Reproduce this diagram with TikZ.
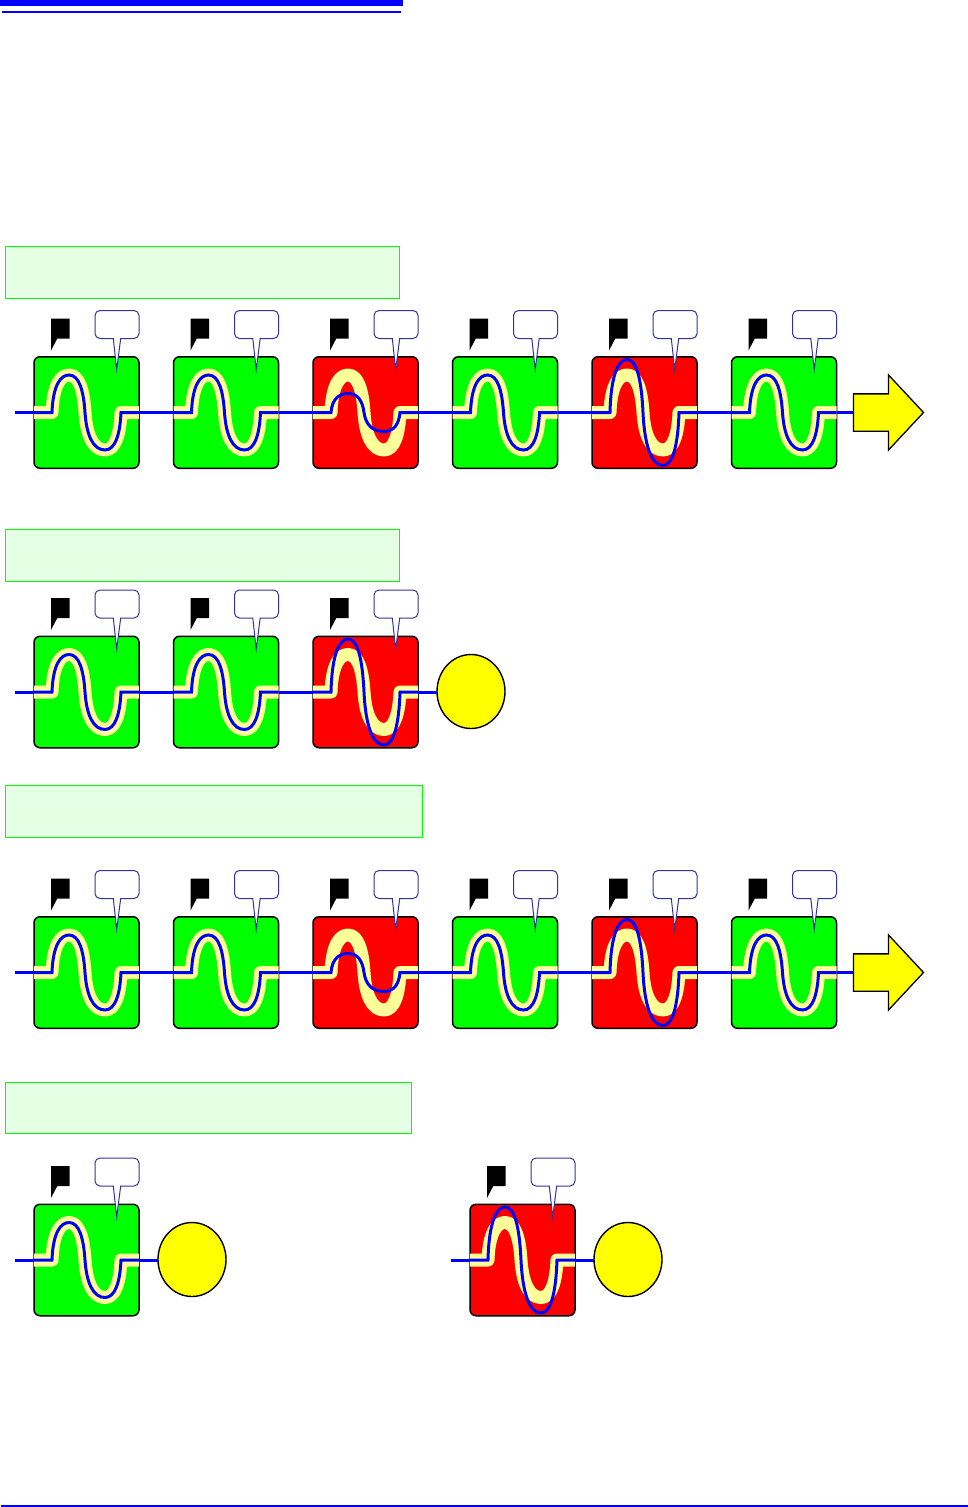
\documentclass[tikz,border=0pt]{standalone}
\usetikzlibrary{shapes.geometric,shapes.arrows}
\definecolor{wireblue}{RGB}{0,0,255}
\definecolor{bandyellow}{RGB}{255,255,153}
\definecolor{calloutblue}{RGB}{51,51,153}
\definecolor{labelfill}{RGB}{229,255,229}
\definecolor{labelline}{RGB}{0,255,0}
\definecolor{okgreen}{RGB}{0,255,0}
\definecolor{badred}{RGB}{255,0,0}
\definecolor{goalyellow}{RGB}{255,255,0}
\tikzset{
  x=1pt,y=-1pt,
  unitbox/.style={draw=black,line width=1.5pt,rounded corners=6pt,minimum width=105pt,minimum height=111.5pt,inner sep=0pt,outer sep=0pt},
  wire/.style={draw=wireblue,line width=3pt},
  band/.style={draw=bandyellow,line width=13pt,line join=round},
  labelbox/.style={draw=labelline,fill=labelfill,line width=1pt,inner sep=0pt,anchor=north west},
  goal/.style={ellipse,draw=black,fill=goalyellow,line width=1.4pt,minimum width=68pt,minimum height=74pt,inner sep=0pt,outer sep=0pt},
  yarrow/.style={single arrow,draw=black,fill=goalyellow,line width=1.3pt,minimum width=75pt,minimum height=70pt,single arrow head extend=19pt,single arrow tip angle=94,inner sep=0pt,outer sep=0pt,anchor=tail},
  flagshape/.style={fill=black},
  callshape/.style={draw=calloutblue,fill=white,line width=1pt}
}
% wave: local x from box left, y from the line level; #1 = amplitude
\newcommand{\wavepath}[1]{
  (0,0) -- (18,0)
  .. controls (19,{-0.75*#1}) and (27,-#1) .. (35,-#1)
  .. controls (45,-#1) and (49.5,{-0.6*#1}) .. (51,0)
  .. controls (52.5,{0.6*#1}) and (59,#1) .. (71,#1)
  .. controls (81,#1) and (86,{0.6*#1}) .. (87,0)
  -- (105,0)}
% #1 name, #2 x of box left, #3 y of line, #4 fill, #5 amplitude of the blue wave
\newcommand{\unit}[5]{
  \node[unitbox,fill=#4,anchor=west] (#1) at (#2,#3) {};
  \begin{scope}[shift={(#2,#3)}]
    \fill[flagshape] (17,-94) -- (35.5,-94) -- (35.5,-74) -- (23.3,-74) -- (17,-62) -- cycle;
    \path[callshape] (68,-74) [rounded corners=5pt] -- (61,-74) -- (61,-102) -- (105,-102) -- (105,-74) [sharp corners] -- (86.7,-74) -- (82.7,-43) -- (79.3,-74) -- cycle;
    \draw[band] \wavepath{37.5};
    \draw[wire] \wavepath{#5};
  \end{scope}
}
\begin{document}
\begin{tikzpicture}
\useasboundingbox (0,0) rectangle (968,1507);
\fill[wireblue] (0,0) rectangle (403,5.7);
\fill[wireblue] (2,10.7) rectangle (401,13);
\fill[wireblue] (1,1505) rectangle (968,1507);
\node[labelbox,minimum width=394pt,minimum height=52.4pt] (l1) at (5.3,246) {};
\node[labelbox,minimum width=394pt,minimum height=52.4pt] (l2) at (5.3,529) {};
\node[labelbox,minimum width=417pt,minimum height=52.4pt] (l3) at (5.3,784.5) {};
\node[labelbox,minimum width=406pt,minimum height=51pt] (l4) at (5.3,1081.7) {};
% row 1
\unit{a1}{34}{412.5}{okgreen}{37.5}
\unit{a2}{173.5}{412.5}{okgreen}{37.5}
\unit{a3}{313}{412.5}{badred}{19}
\unit{a4}{452.5}{412.5}{okgreen}{37.5}
\unit{a5}{592}{412.5}{badred}{53}
\unit{a6}{731.5}{412.5}{okgreen}{37.5}
\node[yarrow] (a7) at (853.5,412.5) {\rule{0pt}{36pt}};
\coordinate (as) at (15,412.5);
\draw[wire] (as) -- (a1.west);
\draw[wire] (a1.east) -- (a2.west);
\draw[wire] (a2.east) -- (a3.west);
\draw[wire] (a3.east) -- (a4.west);
\draw[wire] (a4.east) -- (a5.west);
\draw[wire] (a5.east) -- (a6.west);
\draw[wire] (a6.east) -- (a7.tail);
% row 2
\unit{b1}{34}{692}{okgreen}{37.5}
\unit{b2}{173.5}{692}{okgreen}{37.5}
\unit{b3}{313}{692}{badred}{53}
\node[goal] (b4) at (471,691.5) {};
\coordinate (bs) at (15,692);
\draw[wire] (bs) -- (b1.west);
\draw[wire] (b1.east) -- (b2.west);
\draw[wire] (b2.east) -- (b3.west);
\draw[wire] (b3.east) -- (b4.west |- b3.east);
% row 3
\unit{c1}{34}{972.5}{okgreen}{37.5}
\unit{c2}{173.5}{972.5}{okgreen}{37.5}
\unit{c3}{313}{972.5}{badred}{19}
\unit{c4}{452.5}{972.5}{okgreen}{37.5}
\unit{c5}{592}{972.5}{badred}{53}
\unit{c6}{731.5}{972.5}{okgreen}{37.5}
\node[yarrow] (c7) at (853.5,972.5) {\rule{0pt}{36pt}};
\coordinate (cs) at (15,972.5);
\draw[wire] (cs) -- (c1.west);
\draw[wire] (c1.east) -- (c2.west);
\draw[wire] (c2.east) -- (c3.west);
\draw[wire] (c3.east) -- (c4.west);
\draw[wire] (c4.east) -- (c5.west);
\draw[wire] (c5.east) -- (c6.west);
\draw[wire] (c6.east) -- (c7.tail);
% row 4
\unit{d1}{34}{1260}{okgreen}{37.5}
\node[goal] (d2) at (192,1259.5) {};
\coordinate (ds) at (15,1260);
\draw[wire] (ds) -- (d1.west);
\draw[wire] (d1.east) -- (d2.west |- d1.east);
\unit{e1}{470}{1260}{badred}{53}
\node[goal] (e2) at (628,1259.5) {};
\coordinate (es) at (451,1260);
\draw[wire] (es) -- (e1.west);
\draw[wire] (e1.east) -- (e2.west |- e1.east);
\end{tikzpicture}
\end{document}
